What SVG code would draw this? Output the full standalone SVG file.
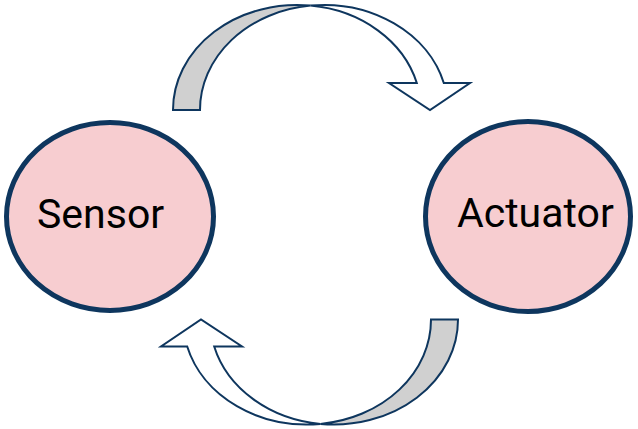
<svg xmlns="http://www.w3.org/2000/svg" xmlns:xlink="http://www.w3.org/1999/xlink" width="638" height="429" viewBox="0 0 638 429">
  <style>
    .node { fill: #f7cdd0; stroke: #0e365e; stroke-width: 5; }
    .label { font-family: Roboto, "Liberation Sans", sans-serif; font-size: 41px; fill: #000000; }
    .back { fill: #d0d0d0; stroke: #0e365e; stroke-width: 2; stroke-linejoin: miter; }
    .front { fill: #ffffff; stroke: #0e365e; stroke-width: 2; stroke-linejoin: miter; }
  </style>
  <defs>
    <g id="curvedArrow">
      <path class="back" d="M 173 110 A 124 105 0 0 1 310.5 5.6 A 124 105 0 0 0 200 110 Z"/>
      <path class="front" d="M 416.8 83 L 389 83 L 430 110 L 470 83 L 443.8 83 A 124 105 0 0 0 310.5 5.6 A 124 105 0 0 1 416.8 83 Z"/>
    </g>
  </defs>
  <g id="connectors">
    <use id="arrow-sensor-actuator" xlink:href="#curvedArrow"/>
    <use id="arrow-actuator-sensor" xlink:href="#curvedArrow" transform="rotate(180 315.5 214.75)"/>
  </g>
  <g id="sensor">
    <ellipse class="node" cx="110" cy="216.5" rx="103.5" ry="94"/>
    <text class="label" x="37" y="227.5">Sensor</text>
  </g>
  <g id="actuator">
    <ellipse class="node" cx="528" cy="216.5" rx="102.5" ry="95"/>
    <text class="label" x="457" y="227">Actuator</text>
  </g>
</svg>
